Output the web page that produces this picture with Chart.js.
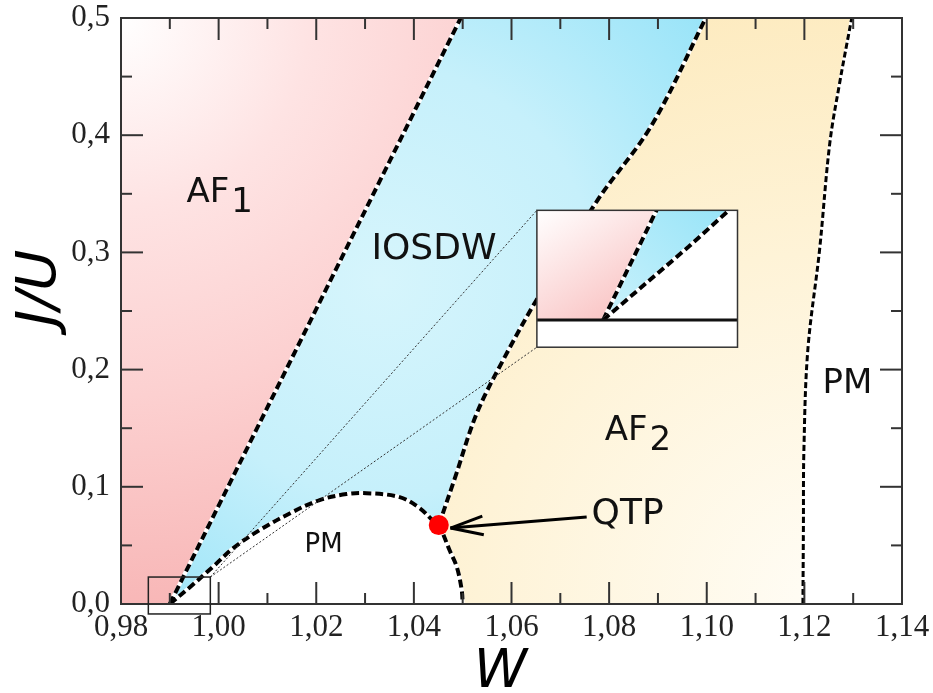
<!DOCTYPE html>
<html>
<head>
<meta charset="utf-8">
<title>Diagramme de phase J/U - W</title>
<script src="https://cdn.jsdelivr.net/npm/chart.js@4.4.1/dist/chart.umd.min.js"></script>
<style>
  html, body { margin: 0; padding: 0; background: #fff; }
  #wrap { width: 933px; height: 693px; }
</style>
</head>
<body>
<div id="wrap"><canvas id="chart" width="933" height="693"></canvas></div>
<script>
// phase boundaries, W on x and J/U on y
// AF1 / IOSDW
const line1W = [0.990, 1.0496];
const line1J = [0, 0.5];
// PM dome (IOSDW / PM, then PM / AF2 below the QTP), ordered by W
const domeW = [0.990, 0.9944, 0.999, 1.0030, 1.0084, 1.0151, 1.0207, 1.0262, 1.0303, 1.0371, 1.0412, 1.0438, 1.0451, 1.0459, 1.0473, 1.0488, 1.0498, 1.050];
const domeJ = [0, 0.0154, 0.0324, 0.0477, 0.0631, 0.0784, 0.0887, 0.0938, 0.0946, 0.0912, 0.0818, 0.0716, 0.0673, 0.0605, 0.0460, 0.0315, 0.0119, 0];
const domePeak = 8;
const domeQtp = 12;
// IOSDW / AF2, from the QTP upwards
const line3W = [1.0451, 1.0484, 1.0529, 1.0586, 1.0651, 1.0776, 1.0887, 1.0998];
const line3J = [0.0673, 0.1074, 0.1628, 0.2106, 0.2592, 0.3444, 0.4084, 0.5];
// AF2 / PM
const line4W = [1.1197, 1.1198, 1.1199, 1.1207, 1.1231, 1.1252, 1.1272, 1.1297];
const line4J = [0, 0.065, 0.131, 0.2165, 0.3017, 0.393, 0.444, 0.5];
// quantum triple point
const qtpW = [1.0451];
const qtpJ = [0.0673];

const xTickValues = [0.98, 1.00, 1.02, 1.04, 1.06, 1.08, 1.10, 1.12, 1.14];
const xTickLabels = ['0,98', '1,00', '1,02', '1,04', '1,06', '1,08', '1,10', '1,12', '1,14'];
const yTickValues = [0, 0.1, 0.2, 0.3, 0.4, 0.5];
const yTickLabels = ['0,0', '0,1', '0,2', '0,3', '0,4', '0,5'];

// annotation placement, in data units
const notes = {
  af1: [0.9934, 0.3427], iosdw: [1.0313, 0.2941], af2: [1.0791, 0.1398],
  pmRight: [1.1237, 0.1799], pmDome: [1.0176, 0.0443], qtp: [1.0764, 0.0682],
  arrowFrom: [1.0754, 0.0742], arrowTo: [1.0475, 0.0648],
  smallBoxW: [0.9856, 0.9983], smallBoxJ: [-0.0085, 0.023],
  insetBoxW: [1.0652, 1.1063], insetBoxJ: [0.2191, 0.3359],
  insetViewW: [0.9866, 0.9969], insetViewJ: [-0.0057, 0.023]
};

function pts(ws, js, idx) {
  return idx.map(i => ({ x: ws[i], y: js[i] }));
}
function range(a, b) {
  const out = [];
  if (a <= b) { for (let i = a; i <= b; i++) out.push(i); }
  else { for (let i = a; i >= b; i--) out.push(i); }
  return out;
}

const line1Pts = pts(line1W, line1J, range(0, line1W.length - 1));
const domePts = pts(domeW, domeJ, range(0, domeW.length - 1));
const domeLeftPts = pts(domeW, domeJ, range(0, domePeak));
const domeRightPts = pts(domeW, domeJ, range(domeW.length - 1, domePeak));
const line3Pts = pts(line3W, line3J, range(0, line3W.length - 1));
const blueEdgePts = pts(domeW, domeJ, range(domeW.length - 1, domeQtp)).concat(line3Pts.slice(1));
const line4Pts = pts(line4W, line4J, range(0, line4W.length - 1));

function radial(chart, cx, cy, r, stops) {
  const a = chart.chartArea;
  if (!a) return stops[stops.length - 1][1];
  const g = chart.ctx.createRadialGradient(a.left + cx, a.top + cy, 0, a.left + cx, a.top + cy, r);
  stops.forEach(s => g.addColorStop(s[0], s[1]));
  return g;
}

const redFill = c => radial(c.chart, 0, 0, 630, [[0, '#ffffff'], [0.3, '#fee3e3'], [0.6, '#fcd0d0'], [1, '#f7b2b2']]);
const blueFill = c => radial(c.chart, 260, 262, 430, [[0, '#d6f5fc'], [0.5, '#c6f0fb'], [1, '#96e3f8']]);
const yellowFill = c => radial(c.chart, 709, 586, 640, [[0, '#fffdf6'], [0.55, '#fef3d7'], [1, '#fdeabd']]);

function fillSet(data, color, fill, order) {
  return {
    data: data, fill: fill, order: order, backgroundColor: color,
    borderWidth: 0, borderColor: 'transparent', pointRadius: 0, tension: 0.35
  };
}
function edgeSet(data, color, width, dash, order) {
  return {
    data: data, fill: false, order: order, borderColor: color, borderWidth: width,
    borderDash: dash, borderCapStyle: 'butt', pointRadius: 0, tension: 0.35
  };
}

const datasets = [
  fillSet(line4Pts, yellowFill, { value: 0.98 }, 40),
  fillSet(blueEdgePts, blueFill, { value: 0.98 }, 30),
  fillSet(line1Pts, redFill, { value: 0.98 }, 20),
  fillSet(domeLeftPts, '#ffffff', 4, 10),
  fillSet(domeRightPts, 'transparent', false, 11),
  edgeSet(line1Pts, '#ffffff', 4, [], 5),
  edgeSet(domePts, '#ffffff', 4, [], 5),
  edgeSet(line3Pts, '#ffffff', 4, [], 5),
  edgeSet(line4Pts, '#ffffff', 3, [], 5),
  edgeSet(line1Pts, '#000000', 4, [8, 4], 3),
  edgeSet(domePts, '#000000', 4, [8, 4], 3),
  edgeSet(line3Pts, '#000000', 4, [8, 4], 3),
  edgeSet(line4Pts, '#000000', 3, [6, 3], 3),
  {
    data: pts(qtpW, qtpJ, [0]), showLine: false, order: 0,
    pointRadius: 10, pointBackgroundColor: '#ff0000', pointBorderWidth: 0, pointBorderColor: '#ff0000'
  }
];

function strokeLine(ctx, x1, y1, x2, y2) {
  ctx.beginPath();
  ctx.moveTo(x1, y1);
  ctx.lineTo(x2, y2);
  ctx.stroke();
}

function strokePath(ctx, p) {
  ctx.beginPath();
  p.forEach((q, i) => i ? ctx.lineTo(q[0], q[1]) : ctx.moveTo(q[0], q[1]));
  ctx.stroke();
}

function drawInset(ctx, px, py) {
  const L = px(notes.insetBoxW[0]), R = px(notes.insetBoxW[1]);
  const T = py(notes.insetBoxJ[1]), B = py(notes.insetBoxJ[0]);
  const vw = notes.insetViewW, vj = notes.insetViewJ;
  const mx = w => L + (w - vw[0]) / (vw[1] - vw[0]) * (R - L);
  const my = j => B - (j - vj[0]) / (vj[1] - vj[0]) * (B - T);

  ctx.save();
  ctx.beginPath();
  ctx.rect(L, T, R - L, B - T);
  ctx.clip();
  ctx.fillStyle = '#ffffff';
  ctx.fillRect(L, T, R - L, B - T);

  const p1 = line1W.map((w, i) => [mx(w), my(line1J[i])]);
  const pd = domeW.slice(0, domePeak + 1).map((w, i) => [mx(w), my(domeJ[i])]);
  const y0 = my(0);
  const last = p1[p1.length - 1];

  let g = ctx.createLinearGradient(L, T, L + 90, B);
  g.addColorStop(0, '#ffffff');
  g.addColorStop(1, '#f8b6b6');
  ctx.fillStyle = g;
  ctx.beginPath();
  ctx.moveTo(L - 5, y0);
  p1.forEach(p => ctx.lineTo(p[0], p[1]));
  ctx.lineTo(L - 5, last[1]);
  ctx.closePath();
  ctx.fill();

  g = ctx.createLinearGradient(L + 60, B, R - 10, T);
  g.addColorStop(0, '#d2f4fc');
  g.addColorStop(1, '#98e4f8');
  ctx.fillStyle = g;
  ctx.beginPath();
  p1.forEach((p, i) => i ? ctx.lineTo(p[0], p[1]) : ctx.moveTo(p[0], p[1]));
  pd.slice().reverse().forEach(p => ctx.lineTo(p[0], p[1]));
  ctx.closePath();
  ctx.fill();

  [p1, pd].forEach(p => {
    ctx.setLineDash([]);
    ctx.strokeStyle = '#ffffff';
    ctx.lineWidth = 4;
    strokePath(ctx, p);
    ctx.setLineDash([8, 4]);
    ctx.strokeStyle = '#000000';
    strokePath(ctx, p);
  });
  ctx.setLineDash([]);
  ctx.fillStyle = '#ffffff';
  ctx.fillRect(L, y0, R - L, B - y0);
  ctx.strokeStyle = '#111111';
  ctx.lineWidth = 3;
  strokeLine(ctx, L, y0, R, y0);
  ctx.restore();

  ctx.strokeStyle = '#333333';
  ctx.lineWidth = 1.5;
  ctx.strokeRect(L, T, R - L, B - T);
}

const decor = {
  id: 'decor',
  afterDatasetsDraw(chart) {
    const { ctx, chartArea: a, scales: { x, y } } = chart;
    const px = w => x.getPixelForValue(w);
    const py = j => y.getPixelForValue(j);
    ctx.save();

    // inward tick marks on all four sides
    ctx.strokeStyle = '#333333';
    ctx.lineWidth = 2;
    x.ticks.forEach(t => {
      const len = t.label ? 22 : 11;
      const p = px(t.value);
      strokeLine(ctx, p, a.bottom, p, a.bottom - len);
      strokeLine(ctx, p, a.top, p, a.top + len);
    });
    y.ticks.forEach(t => {
      const len = t.label ? 22 : 11;
      const p = py(t.value);
      strokeLine(ctx, a.left, p, a.left + len, p);
      strokeLine(ctx, a.right, p, a.right - len, p);
    });
    ctx.strokeRect(a.left, a.top, a.right - a.left, a.bottom - a.top);

    // zoom guides
    const bx0 = px(notes.smallBoxW[0]), bx1 = px(notes.smallBoxW[1]);
    const by0 = py(notes.smallBoxJ[1]), by1 = py(notes.smallBoxJ[0]);
    ctx.strokeStyle = '#333333';
    ctx.lineWidth = 1;
    ctx.setLineDash([2, 2]);
    strokeLine(ctx, bx1, by0, px(notes.insetBoxW[0]), py(notes.insetBoxJ[1]));
    strokeLine(ctx, bx1, by0, px(notes.insetBoxW[0]), py(notes.insetBoxJ[0]));
    ctx.setLineDash([]);
    ctx.strokeStyle = '#222222';
    ctx.lineWidth = 1.5;
    ctx.strokeRect(bx0, by0, bx1 - bx0, by1 - by0);

    drawInset(ctx, px, py);

    // phase labels
    ctx.fillStyle = '#111111';
    ctx.textAlign = 'left';
    ctx.textBaseline = 'alphabetic';
    const sub = (main, s, pos, size) => {
      ctx.font = size + 'px "DejaVu Sans"';
      const x0 = px(pos[0]), y0 = py(pos[1]);
      ctx.fillText(main, x0, y0);
      const w = ctx.measureText(main).width;
      ctx.fillText(s, x0 + w + 2, y0 + 10);
    };
    sub('AF', '1', notes.af1, 34);
    sub('AF', '2', notes.af2, 34);
    ctx.font = '36px "DejaVu Sans"';
    ctx.fillText('IOSDW', px(notes.iosdw[0]), py(notes.iosdw[1]));
    ctx.fillText('QTP', px(notes.qtp[0]), py(notes.qtp[1]));
    ctx.font = '34px "DejaVu Sans"';
    ctx.fillText('PM', px(notes.pmRight[0]), py(notes.pmRight[1]));
    ctx.font = '26px "DejaVu Sans"';
    ctx.fillText('PM', px(notes.pmDome[0]), py(notes.pmDome[1]));

    // arrow to the QTP
    const ax0 = px(notes.arrowFrom[0]), ay0 = py(notes.arrowFrom[1]);
    const ax1 = px(notes.arrowTo[0]), ay1 = py(notes.arrowTo[1]);
    const ang = Math.atan2(ay0 - ay1, ax0 - ax1);
    ctx.strokeStyle = '#000000';
    ctx.lineWidth = 3;
    strokeLine(ctx, ax0, ay0, ax1, ay1);
    [-0.28, 0.28].forEach(d => {
      strokeLine(ctx, ax1, ay1, ax1 + 34 * Math.cos(ang + d), ay1 + 34 * Math.sin(ang + d));
    });

    // axis titles
    ctx.fillStyle = '#000000';
    ctx.textAlign = 'center';
    ctx.font = 'italic 54px "DejaVu Sans"';
    ctx.fillText('W', (a.left + a.right) / 2 - 11, a.bottom + 83);
    ctx.save();
    ctx.translate(55, (a.top + a.bottom) / 2 - 23);
    ctx.rotate(-Math.PI / 2);
    ctx.font = 'italic 56px "DejaVu Sans"';
    ctx.fillText('J/U', 0, 0);
    ctx.restore();

    ctx.restore();
  }
};

function tickLabel(values, labels) {
  return v => {
    const i = values.findIndex(t => Math.abs(t - v) < 1e-6);
    return i >= 0 ? labels[i] : '';
  };
}

const tickFont = { family: '"Liberation Serif", "Times New Roman", serif', size: 31 };

new Chart(document.getElementById('chart'), {
  type: 'line',
  data: { datasets: datasets },
  options: {
    responsive: false,
    animation: false,
    indexAxis: 'y',
    layout: { padding: { top: 18, right: 31, left: 0, bottom: 0 } },
    plugins: {
      legend: { display: false },
      tooltip: { enabled: false },
      filler: { drawTime: 'beforeDatasetsDraw', propagate: false }
    },
    scales: {
      x: {
        type: 'linear', position: 'bottom', min: 0.98, max: 1.14,
        grid: { display: false, drawTicks: false },
        border: { display: false },
        ticks: {
          stepSize: 0.01, maxTicksLimit: 100, autoSkip: false, maxRotation: 0,
          padding: 5, color: '#222222', font: tickFont,
          callback: tickLabel(xTickValues, xTickLabels)
        },
        afterFit: s => {
          s.height = 89;
          s.paddingLeft = 0;
          s.paddingRight = 0;
        }
      },
      y: {
        type: 'linear', position: 'left', min: 0, max: 0.5,
        grid: { display: false, drawTicks: false },
        border: { display: false },
        ticks: {
          stepSize: 0.05, maxTicksLimit: 100, autoSkip: false,
          padding: 11, color: '#222222', font: tickFont,
          callback: tickLabel(yTickValues, yTickLabels)
        },
        afterFit: s => {
          s.width = 121;
          s.paddingTop = 0;
          s.paddingBottom = 0;
        }
      }
    }
  },
  plugins: [decor]
});
</script>
</body>
</html>
